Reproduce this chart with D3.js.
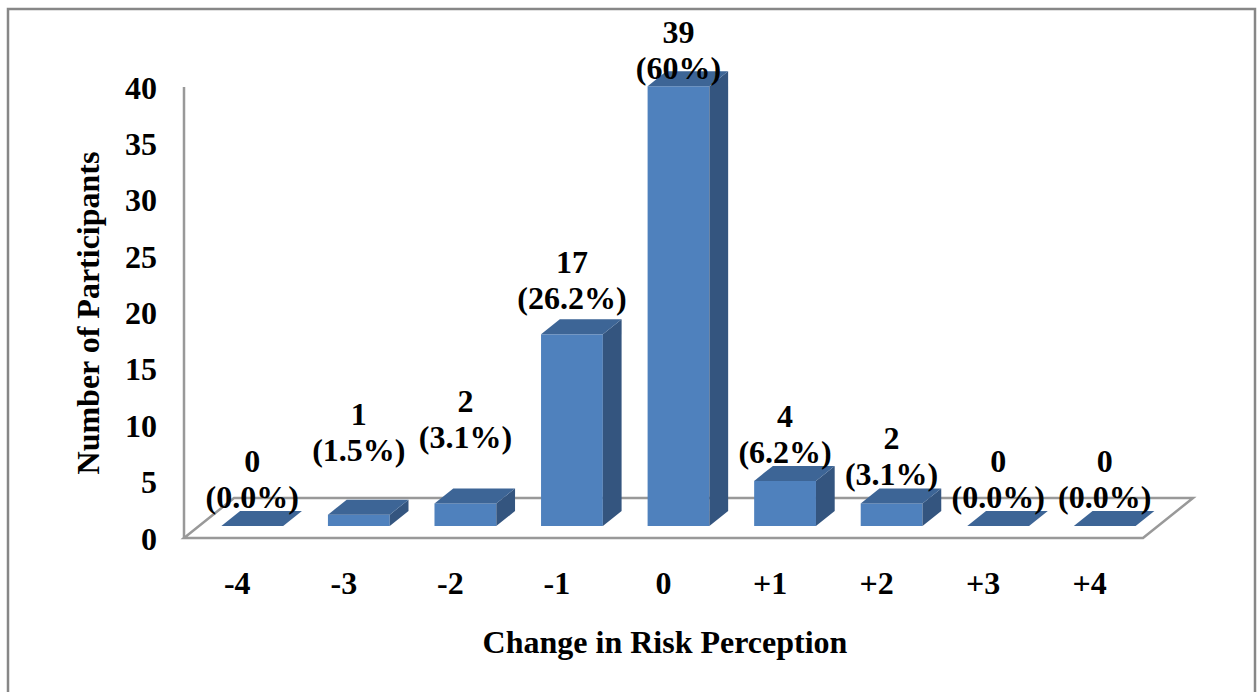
<!DOCTYPE html>
<html>
<head>
<meta charset="utf-8">
<script src="https://cdn.jsdelivr.net/npm/d3@7/dist/d3.min.js"></script>
<style>
  html, body { margin: 0; padding: 0; background: #fff; }
  svg text { font-family: "Liberation Serif", "Times New Roman", serif; font-weight: bold; fill: #000; }
</style>
</head>
<body>
<svg id="chart" width="1257" height="692"></svg>
<script>
// Change in risk perception: participants per score change
const categories = ["-4", "-3", "-2", "-1", "0", "+1", "+2", "+3", "+4"];
const counts = [0, 1, 2, 17, 39, 4, 2, 0, 0];
const percents = ["0.0%", "1.5%", "3.1%", "26.2%", "60%", "6.2%", "3.1%", "0.0%", "0.0%"];
const yTicks = [0, 5, 10, 15, 20, 25, 30, 35, 40];

// Layout: extra lift of each data label so neighbouring labels stay clear
const labelLift = [0, 36, 37, 7, -11, 0, 0, 0, 0];

const svg = d3.select("#chart");
const W = 1257, H = 692;
const FS = 32;

// Oblique 3D projection: floor depth offset on screen
const DX = 50, DY = 40;
const zFront = 0.3, zBack = 0.675;

const x = d3.scaleBand().domain(categories).range([184, 1143]).padding(0);
const y = d3.scaleLinear().domain([0, 40]).range([538, 87]);

const proj = (px, v, z) => [px + z * DX, y(v) - z * DY];
const poly = pts => pts.map(p => p.join(",")).join(" ");

// Outer frame
svg.append("rect")
  .attr("x", 8).attr("y", 9).attr("width", W - 10).attr("height", H + 10)
  .attr("fill", "#fff").attr("stroke", "#878787").attr("stroke-width", 2.5);

// Floor
const x0 = x.range()[0], x1 = x.range()[1];
svg.append("polygon")
  .attr("points", poly([proj(x0, 0, 0), proj(x1, 0, 0), proj(x1, 0, 1), proj(x0, 0, 1)]))
  .attr("fill", "none").attr("stroke", "#999").attr("stroke-width", 2.5)
  .attr("stroke-linejoin", "miter");

// Vertical axis line
svg.append("line")
  .attr("x1", x0).attr("x2", x0)
  .attr("y1", y(0)).attr("y2", y(40))
  .attr("stroke", "#999").attr("stroke-width", 2.5);

// Vertical axis tick labels
svg.append("g").selectAll("text").data(yTicks).join("text")
  .attr("x", 157).attr("y", d => y(d))
  .attr("dy", "0.36em")
  .attr("text-anchor", "end")
  .attr("font-size", FS)
  .text(d => d);

// Category labels
svg.append("g").selectAll("text").data(categories).join("text")
  .attr("x", d => x(d) + x.bandwidth() / 2)
  .attr("y", 594)
  .attr("text-anchor", "middle")
  .attr("font-size", FS)
  .text(d => d);

// Bars
const bw = x.bandwidth() * 0.58;
const bars = categories.map((c, i) => {
  const xl = x(c) + (x.bandwidth() - bw) / 2;
  return { c, v: counts[i], p: percents[i], i, xl, xr: xl + bw };
});

const gBars = svg.append("g");
bars.forEach(b => {
  const g = gBars.append("g");
  if (b.v > 0) {
    const fTL = proj(b.xl, b.v, zFront), fBR = proj(b.xr, 0, zFront);
    g.append("rect")
      .attr("x", fTL[0]).attr("y", fTL[1])
      .attr("width", fBR[0] - fTL[0]).attr("height", fBR[1] - fTL[1])
      .attr("fill", "#4f81bd");
    g.append("polygon")
      .attr("points", poly([proj(b.xr, 0, zFront), proj(b.xr, b.v, zFront), proj(b.xr, b.v, zBack), proj(b.xr, 0, zBack)]))
      .attr("fill", "#34557f");
  }
  g.append("polygon")
    .attr("points", poly([proj(b.xl, b.v, zFront), proj(b.xr, b.v, zFront), proj(b.xr, b.v, zBack), proj(b.xl, b.v, zBack)]))
    .attr("fill", "#3d6596");
});

// Data labels: count and share
const gLab = svg.append("g");
bars.forEach(b => {
  const top = proj(b.xl, b.v, zFront)[1];
  const cx = (b.xl + b.xr) / 2 + zFront * DX;
  const base = top - 18 - labelLift[b.i];
  gLab.append("text").attr("x", cx).attr("y", base - 36)
    .attr("text-anchor", "middle").attr("font-size", FS).text(b.v);
  gLab.append("text").attr("x", cx).attr("y", base)
    .attr("text-anchor", "middle").attr("font-size", FS).text("(" + b.p + ")");
});

// Axis titles
svg.append("text")
  .attr("x", 665).attr("y", 653)
  .attr("text-anchor", "middle").attr("font-size", FS)
  .text("Change in Risk Perception");

svg.append("text")
  .attr("transform", "translate(99,313) rotate(-90)")
  .attr("text-anchor", "middle").attr("font-size", FS)
  .text("Number of Participants");
</script>
</body>
</html>
